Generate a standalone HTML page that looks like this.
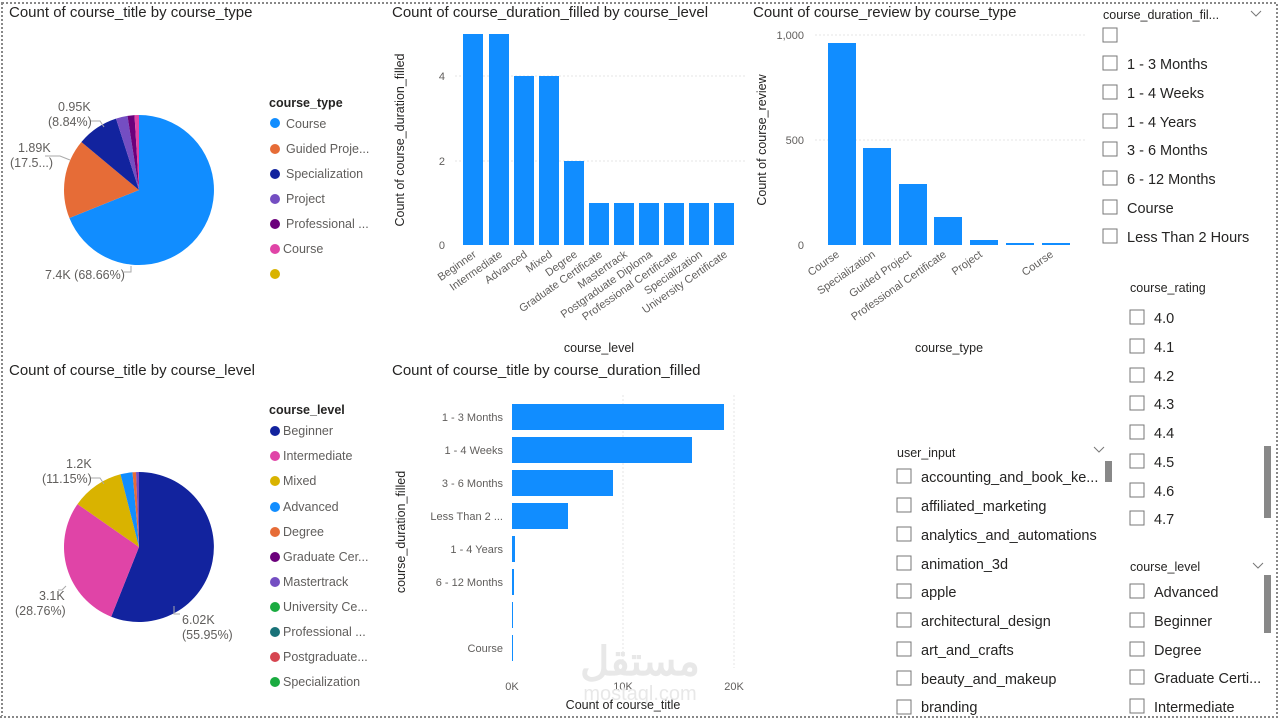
<!DOCTYPE html>
<html><head><meta charset="utf-8"><style>
body{margin:0;width:1280px;height:721px;background:#fff;overflow:hidden;font-family:"Liberation Sans",sans-serif}
svg text{font-family:"Liberation Sans",sans-serif}
.t{font-size:15px;fill:#252423}
.l{font-size:12.5px;fill:#605e5c}
.s{font-size:14.5px;fill:#252423}
.h{font-size:12.5px;fill:#252423;font-weight:bold}
.ax{font-size:11px;fill:#605e5c}
</style></head><body>
<svg width="1280" height="721" xmlns="http://www.w3.org/2000/svg">
<rect x="2" y="3" width="1275" height="714" fill="none" stroke="#888" stroke-width="2" stroke-dasharray="2,2"/>
<text class="t" x="9" y="17">Count of course_title by course_type</text>
<text class="t" x="392" y="17">Count of course_duration_filled by course_level</text>
<text class="t" x="753" y="17">Count of course_review by course_type</text>
<text class="t" x="9" y="375">Count of course_title by course_level</text>
<text class="t" x="392" y="375">Count of course_title by course_duration_filled</text>

<g transform="translate(139,190)">
<path d="M0,0 L0,-75 A75,75 0 1,1 -69.6,28.0 Z" fill="#118dff"/>
<path d="M0,0 L-69.6,28.0 A75,75 0 0,1 -57.6,-48.0 Z" fill="#e66c37"/>
<path d="M0,0 L-57.6,-48.0 A75,75 0 0,1 -23.0,-71.4 Z" fill="#12239e"/>
<path d="M0,0 L-23.0,-71.4 A75,75 0 0,1 -11.5,-74.1 Z" fill="#744ec2"/>
<path d="M0,0 L-11.5,-74.1 A75,75 0 0,1 -4.5,-74.9 Z" fill="#6b007b"/>
<path d="M0,0 L-4.5,-74.9 A75,75 0 0,1 0,-75 Z" fill="#e044a7"/>
</g>
<polyline points="90,121 100,121 104,127" fill="none" stroke="#aaa"/>
<polyline points="45,156 60,156 70,160" fill="none" stroke="#aaa"/>
<polyline points="124,272 131,272 131,266" fill="none" stroke="#aaa"/>
<text class="l" x="58" y="111">0.95K</text><text class="l" x="48" y="126">(8.84%)</text>
<text class="l" x="18" y="152">1.89K</text><text class="l" x="10" y="167">(17.5...)</text>
<text class="l" x="45" y="279">7.4K (68.66%)</text>
<text class="h" x="269" y="107">course_type</text>
<g class="l">
<circle cx="275" cy="123" r="5" fill="#118dff"/><text x="286" y="128">Course</text>
<circle cx="275" cy="149" r="5" fill="#e66c37"/><text x="286" y="153">Guided Proje...</text>
<circle cx="275" cy="174" r="5" fill="#12239e"/><text x="286" y="178">Specialization</text>
<circle cx="275" cy="199" r="5" fill="#744ec2"/><text x="286" y="203">Project</text>
<circle cx="275" cy="224" r="5" fill="#6b007b"/><text x="286" y="228">Professional ...</text>
<circle cx="275" cy="249" r="5" fill="#e044a7"/><text x="283" y="253">Course</text>
<circle cx="275" cy="274" r="5" fill="#d9b300"/>
</g>

<g transform="translate(139,547)">
<path d="M0,0 L0,-75 A75,75 0 1,1 -27.8,69.7 Z" fill="#12239e"/>
<path d="M0,0 L-27.8,69.7 A75,75 0 0,1 -61.5,-42.9 Z" fill="#e044a7"/>
<path d="M0,0 L-61.5,-42.9 A75,75 0 0,1 -18.5,-72.7 Z" fill="#d9b300"/>
<path d="M0,0 L-18.5,-72.7 A75,75 0 0,1 -6.5,-74.7 Z" fill="#118dff"/>
<path d="M0,0 L-6.5,-74.7 A75,75 0 0,1 -3,-74.9 Z" fill="#e66c37"/>
<path d="M0,0 L-3,-74.9 A75,75 0 0,1 0,-75 Z" fill="#744ec2"/>
</g>
<polyline points="90,478 100,478 104,484" fill="none" stroke="#aaa"/>
<polyline points="58,590 62,590 66,586" fill="none" stroke="#aaa"/>
<polyline points="174,606 174,614 180,614" fill="none" stroke="#aaa"/>
<text class="l" x="66" y="468">1.2K</text><text class="l" x="42" y="483">(11.15%)</text>
<text class="l" x="39" y="600">3.1K</text><text class="l" x="15" y="615">(28.76%)</text>
<text class="l" x="182" y="624">6.02K</text><text class="l" x="182" y="639">(55.95%)</text>
<text class="h" x="269" y="414">course_level</text>
<g class="l">
<circle cx="275" cy="431" r="5" fill="#12239e"/><text x="283" y="435">Beginner</text>
<circle cx="275" cy="456" r="5" fill="#e044a7"/><text x="283" y="460">Intermediate</text>
<circle cx="275" cy="481" r="5" fill="#d9b300"/><text x="283" y="485">Mixed</text>
<circle cx="275" cy="507" r="5" fill="#118dff"/><text x="283" y="511">Advanced</text>
<circle cx="275" cy="532" r="5" fill="#e66c37"/><text x="283" y="536">Degree</text>
<circle cx="275" cy="557" r="5" fill="#6b007b"/><text x="283" y="561">Graduate Cer...</text>
<circle cx="275" cy="582" r="5" fill="#744ec2"/><text x="283" y="586">Mastertrack</text>
<circle cx="275" cy="607" r="5" fill="#1aab40"/><text x="283" y="611">University Ce...</text>
<circle cx="275" cy="632" r="5" fill="#197278"/><text x="283" y="636">Professional ...</text>
<circle cx="275" cy="657" r="5" fill="#d64550"/><text x="283" y="661">Postgraduate...</text>
<circle cx="275" cy="682" r="5" fill="#1aab40"/><text x="283" y="686">Specialization</text>
</g>

<g stroke="#e6e6e6" stroke-dasharray="2,2"><line x1="455" x2="745" y1="76" y2="76"/><line x1="455" x2="745" y1="161" y2="161"/></g>
<g class="ax" text-anchor="end"><text x="445" y="80">4</text><text x="445" y="165">2</text><text x="445" y="249">0</text></g>
<text class="l" transform="translate(404,140) rotate(-90)" text-anchor="middle" style="fill:#252423">Count of course_duration_filled</text>
<g fill="#118dff">
<rect x="463" y="34" width="20" height="211"/><rect x="489" y="34" width="20" height="211"/>
<rect x="514" y="76" width="20" height="169"/><rect x="539" y="76" width="20" height="169"/>
<rect x="564" y="161" width="20" height="84"/>
<rect x="589" y="203" width="20" height="42"/><rect x="614" y="203" width="20" height="42"/><rect x="639" y="203" width="20" height="42"/><rect x="664" y="203" width="20" height="42"/><rect x="689" y="203" width="20" height="42"/><rect x="714" y="203" width="20" height="42"/>
</g>
<g class="ax" text-anchor="end">
<text transform="translate(477,256) rotate(-35)">Beginner</text>
<text transform="translate(503,256) rotate(-35)">Intermediate</text>
<text transform="translate(528,256) rotate(-35)">Advanced</text>
<text transform="translate(553,256) rotate(-35)">Mixed</text>
<text transform="translate(578,256) rotate(-35)">Degree</text>
<text transform="translate(603,256) rotate(-35)">Graduate Certificate</text>
<text transform="translate(628,256) rotate(-35)">Mastertrack</text>
<text transform="translate(653,256) rotate(-35)">Postgraduate Diploma</text>
<text transform="translate(678,256) rotate(-35)">Professional Certificate</text>
<text transform="translate(703,256) rotate(-35)">Specialization</text>
<text transform="translate(728,256) rotate(-35)">University Certificate</text>
</g>
<text class="l" x="599" y="352" text-anchor="middle" style="fill:#252423">course_level</text>

<g stroke="#e6e6e6" stroke-dasharray="2,2"><line x1="815" x2="1085" y1="35" y2="35"/><line x1="815" x2="1085" y1="140" y2="140"/></g>
<g class="ax" text-anchor="end"><text x="804" y="39">1,000</text><text x="804" y="144">500</text><text x="804" y="249">0</text></g>
<text class="l" transform="translate(766,140) rotate(-90)" text-anchor="middle" style="fill:#252423">Count of course_review</text>
<g fill="#118dff">
<rect x="828" y="43" width="28" height="202"/><rect x="863" y="148" width="28" height="97"/><rect x="899" y="184" width="28" height="61"/><rect x="934" y="217" width="28" height="28"/><rect x="970" y="240" width="28" height="5"/><rect x="1006" y="243" width="28" height="2"/><rect x="1042" y="243" width="28" height="2"/>
</g>
<g class="ax" text-anchor="end">
<text transform="translate(840,256) rotate(-35)">Course</text>
<text transform="translate(876,256) rotate(-35)">Specialization</text>
<text transform="translate(912,256) rotate(-35)">Guided Project</text>
<text transform="translate(947,256) rotate(-35)">Professional Certificate</text>
<text transform="translate(983,256) rotate(-35)">Project</text>
<text transform="translate(1054,256) rotate(-35)">Course</text>
</g>
<text class="l" x="949" y="352" text-anchor="middle" style="fill:#252423">course_type</text>

<g stroke="#e6e6e6" stroke-dasharray="2,2"><line x1="623" x2="623" y1="395" y2="668"/><line x1="734" x2="734" y1="395" y2="668"/></g>
<g fill="#118dff">
<rect x="512" y="404" width="212" height="26"/><rect x="512" y="437" width="180" height="26"/><rect x="512" y="470" width="101" height="26"/><rect x="512" y="503" width="56" height="26"/><rect x="512" y="536" width="3" height="26"/><rect x="512" y="569" width="2" height="26"/><rect x="512" y="602" width="1" height="26"/><rect x="512" y="635" width="1" height="26"/>
</g>
<g class="ax" text-anchor="end">
<text x="503" y="421">1 - 3 Months</text><text x="503" y="454">1 - 4 Weeks</text><text x="503" y="487">3 - 6 Months</text><text x="503" y="520">Less Than 2 ...</text><text x="503" y="553">1 - 4 Years</text><text x="503" y="586">6 - 12 Months</text><text x="503" y="652">Course</text>
</g>
<g class="ax" text-anchor="middle"><text x="512" y="690">0K</text><text x="623" y="690">10K</text><text x="734" y="690">20K</text></g>
<text class="l" x="623" y="709" text-anchor="middle" style="fill:#252423">Count of course_title</text>
<text class="l" transform="translate(405,532) rotate(-90)" text-anchor="middle" style="fill:#252423">course_duration_filled</text>
<text x="640" y="675" text-anchor="middle" style="font-size:40px;fill:#e8e8e8;font-weight:bold">مستقل</text>
<text x="640" y="700" text-anchor="middle" style="font-size:20px;fill:#e8e8e8">mostaql.com</text>

<g fill="none" stroke="#777" stroke-width="1">
<rect x="1103" y="28" width="14" height="14"/><rect x="1103" y="56" width="14" height="14"/><rect x="1103" y="85" width="14" height="14"/><rect x="1103" y="114" width="14" height="14"/><rect x="1103" y="142" width="14" height="14"/><rect x="1103" y="171" width="14" height="14"/><rect x="1103" y="200" width="14" height="14"/><rect x="1103" y="229" width="14" height="14"/>
<rect x="1130" y="310" width="14" height="14"/><rect x="1130" y="339" width="14" height="14"/><rect x="1130" y="368" width="14" height="14"/><rect x="1130" y="396" width="14" height="14"/><rect x="1130" y="425" width="14" height="14"/><rect x="1130" y="454" width="14" height="14"/><rect x="1130" y="483" width="14" height="14"/><rect x="1130" y="511" width="14" height="14"/>
<rect x="1130" y="584" width="14" height="14"/><rect x="1130" y="613" width="14" height="14"/><rect x="1130" y="642" width="14" height="14"/><rect x="1130" y="670" width="14" height="14"/><rect x="1130" y="699" width="14" height="14"/>
<rect x="897" y="469" width="14" height="14"/><rect x="897" y="498" width="14" height="14"/><rect x="897" y="527" width="14" height="14"/><rect x="897" y="556" width="14" height="14"/><rect x="897" y="584" width="14" height="14"/><rect x="897" y="613" width="14" height="14"/><rect x="897" y="642" width="14" height="14"/><rect x="897" y="671" width="14" height="14"/><rect x="897" y="700" width="14" height="14"/>
<polyline points="1251,11 1256,16 1261,11"/><polyline points="1094,447 1099,452 1104,447"/><polyline points="1253,563 1258,568 1263,563"/>
</g>
<text class="h" x="1103" y="19" style="font-weight:normal">course_duration_fil...</text>
<g class="s">
<text x="1127" y="69">1 - 3 Months</text><text x="1127" y="98">1 - 4 Weeks</text><text x="1127" y="127">1 - 4 Years</text><text x="1127" y="155">3 - 6 Months</text><text x="1127" y="184">6 - 12 Months</text><text x="1127" y="213">Course</text><text x="1127" y="242">Less Than 2 Hours</text>
</g>
<text class="h" x="1130" y="292" style="font-weight:normal">course_rating</text>
<g class="s">
<text x="1154" y="323">4.0</text><text x="1154" y="352">4.1</text><text x="1154" y="381">4.2</text><text x="1154" y="409">4.3</text><text x="1154" y="438">4.4</text><text x="1154" y="467">4.5</text><text x="1154" y="496">4.6</text><text x="1154" y="524">4.7</text>
</g>
<rect x="1128" y="541" width="40" height="10" fill="#fff"/>
<rect x="1264" y="446" width="7" height="72" fill="#888"/>
<text class="h" x="1130" y="571" style="font-weight:normal">course_level</text>
<g class="s">
<text x="1154" y="597">Advanced</text><text x="1154" y="626">Beginner</text><text x="1154" y="655">Degree</text><text x="1154" y="683">Graduate Certi...</text><text x="1154" y="712">Intermediate</text>
</g>
<rect x="1264" y="575" width="7" height="58" fill="#888"/>
<text class="h" x="897" y="457" style="font-weight:normal">user_input</text>
<g class="s">
<text x="921" y="482">accounting_and_book_ke...</text><text x="921" y="511">affiliated_marketing</text><text x="921" y="540">analytics_and_automations</text><text x="921" y="569">animation_3d</text><text x="921" y="597">apple</text><text x="921" y="626">architectural_design</text><text x="921" y="655">art_and_crafts</text><text x="921" y="684">beauty_and_makeup</text><text x="921" y="712">branding</text>
</g>
<rect x="1105" y="461" width="7" height="21" fill="#888"/>
<rect x="0" y="716" width="1280" height="5" fill="#fff"/>
<line x1="0" y1="717" x2="1280" y2="717" stroke="#888" stroke-width="2" stroke-dasharray="2,2"/>
</svg>
</body></html>
